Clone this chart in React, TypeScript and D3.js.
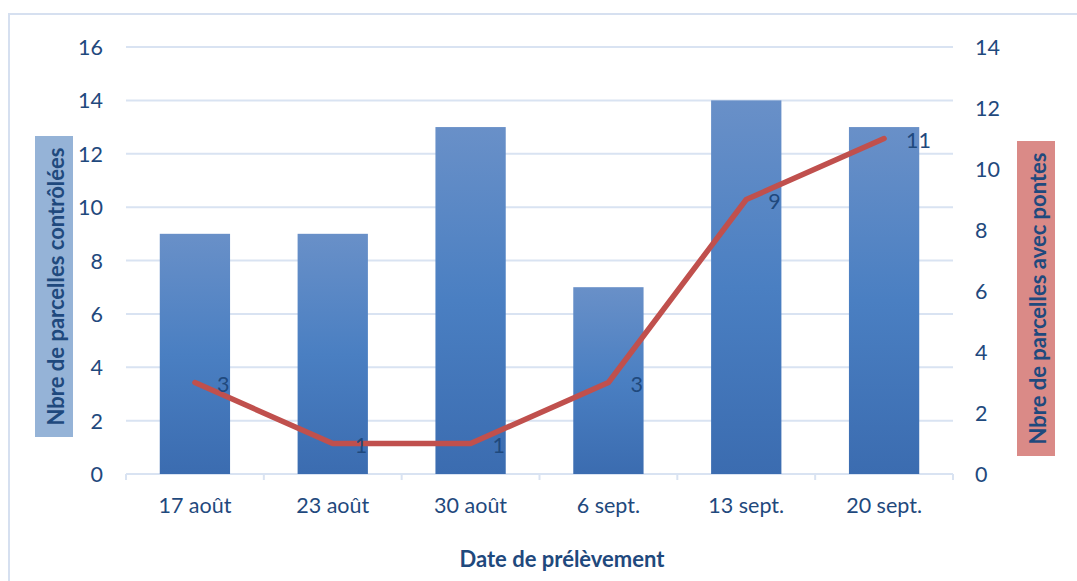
import React from "react";
import * as d3 from "d3";

const categories = ["17 août", "23 août", "30 août", "6 sept.", "13 sept.", "20 sept."];
const parcellesControlees = [9, 9, 13, 7, 14, 13];
const parcellesAvecPontes = [3, 1, 1, 3, 9, 11];
const leftTicks = [0, 2, 4, 6, 8, 10, 12, 14, 16];
const rightTicks = [0, 2, 4, 6, 8, 10, 12, 14];

const W = 1077;
const H = 581;
const plot = { left: 126, right: 953, top: 47, bottom: 474 };
const FONT = "Lato, 'Open Sans', sans-serif";
const TEXT = "#1f497d";
const GRID = "#d9e3f2";

export default function App() {
  const x = d3.scaleBand<string>().domain(categories).range([plot.left, plot.right]).paddingInner(0.49).paddingOuter(0.245);
  const xOuter = d3.scaleBand<string>().domain(categories).range([plot.left, plot.right]);
  const yL = d3.scaleLinear().domain([0, 16]).range([plot.bottom, plot.top]);
  const yR = d3.scaleLinear().domain([0, 14]).range([plot.bottom, plot.top]);
  const line = d3
    .line<number>()
    .x((_, i) => (xOuter(categories[i]) as number) + xOuter.bandwidth() / 2)
    .y((d) => yR(d));

  const boundaries = categories.map((c) => xOuter(c) as number).concat([plot.right]);

  return (
    <svg width={W} height={H} style={{ position: "absolute", left: 0, top: 0 }} fontFamily={FONT}>
      <defs>
        <linearGradient id="barGrad" x1="0" y1="0" x2="0" y2="1">
          <stop offset="0%" stopColor="#6990c8" />
          <stop offset="50%" stopColor="#4a7fc2" />
          <stop offset="100%" stopColor="#3b6cb0" />
        </linearGradient>
      </defs>
      <rect x={0} y={0} width={W} height={H} fill="#ffffff" />
      <rect x={9} y={14} width={W + 10} height={H + 10} fill="none" stroke="#d6e0f0" strokeWidth={2} />

      {leftTicks.map((t) => (
        <line key={"g" + t} x1={plot.left} x2={plot.right} y1={yL(t)} y2={yL(t)} stroke={GRID} strokeWidth={2} />
      ))}
      {boundaries.map((b, i) => (
        <line key={"tk" + i} x1={b} x2={b} y1={plot.bottom} y2={plot.bottom + 6} stroke={GRID} strokeWidth={2} />
      ))}

      {parcellesControlees.map((v, i) => (
        <rect
          key={"b" + i}
          x={x(categories[i]) as number}
          y={yL(v)}
          width={x.bandwidth()}
          height={yL(0) - yL(v)}
          fill="url(#barGrad)"
        />
      ))}

      <path d={line(parcellesAvecPontes) || ""} fill="none" stroke="#c0504d" strokeWidth={5.5} strokeLinejoin="round" strokeLinecap="round" />

      {parcellesAvecPontes.map((v, i) => (
        <text
          key={"lbl" + i}
          x={(xOuter(categories[i]) as number) + xOuter.bandwidth() / 2 + 22}
          y={yR(v) + 1}
          fontSize={21.5}
          fill={TEXT}
          dominantBaseline="central"
        >
          {v}
        </text>
      ))}

      {leftTicks.map((t) => (
        <text key={"lt" + t} x={103} y={yL(t)} fontSize={21.5} fill={TEXT} textAnchor="end" dominantBaseline="central">
          {t}
        </text>
      ))}
      {rightTicks.map((t) => (
        <text key={"rt" + t} x={975} y={yR(t)} fontSize={21.5} fill={TEXT} textAnchor="start" dominantBaseline="central">
          {t}
        </text>
      ))}
      {categories.map((c) => (
        <text
          key={"c" + c}
          x={(xOuter(c) as number) + xOuter.bandwidth() / 2}
          y={505}
          fontSize={21.5}
          fill={TEXT}
          textAnchor="middle"
          dominantBaseline="central"
        >
          {c}
        </text>
      ))}

      <rect x={35} y={136} width={38} height={301} fill="#95b3d7" />
      <text
        transform={`translate(55,286.5) rotate(-90)`}
        fontSize={22}
        fontWeight="bold"
        fill={TEXT}
        textAnchor="middle"
        dominantBaseline="central"
      >
        Nbre de parcelles contrôlées
      </text>

      <rect x={1017} y={141} width={38} height={315} fill="#da8a87" />
      <text
        transform={`translate(1037,298.5) rotate(-90)`}
        fontSize={22}
        fontWeight="bold"
        fill={TEXT}
        textAnchor="middle"
        dominantBaseline="central"
      >
        Nbre de parcelles avec pontes
      </text>

      <text x={562} y={558} fontSize={22} fontWeight="bold" fill={TEXT} textAnchor="middle" dominantBaseline="central">
        Date de prélèvement
      </text>
    </svg>
  );
}
